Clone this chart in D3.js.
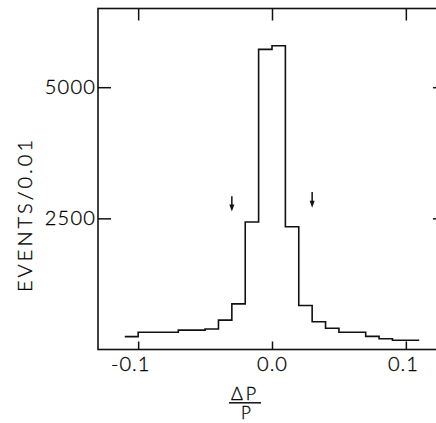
<!DOCTYPE html>
<html>
<head>
<meta charset="utf-8">
<script src="https://cdn.jsdelivr.net/npm/d3@7"></script>
<style>
  html, body { margin: 0; padding: 0; background: #fff; }
  svg { display: block; }
  text { font-family: Lato, "DejaVu Sans", sans-serif; fill: #000; font-weight: 300; stroke: #000; stroke-width: 0.3; }
</style>
</head>
<body>
<svg id="chart" width="436" height="423"></svg>
<script>
// ---- data ----
const binStart = [-0.11, -0.10, -0.09, -0.08, -0.07, -0.06, -0.05, -0.04, -0.03, -0.02, -0.01,
                   0.00,  0.01,  0.02,  0.03,  0.04,  0.05,  0.06,  0.07,  0.08,  0.09,  0.10];
const binWidth = 0.01;
const events   = [245, 330, 330, 330, 370, 370, 390, 560, 870, 2430, 5720,
                  5790, 2340, 840, 530, 405, 330, 330, 250, 205, 175, 175];
const xTicks = [-0.1, 0.0, 0.1];
const xTickLabels = ["-0.1", "0.0", "0.1"];
const yTicks = [2500, 5000];
const yTickLabels = ["2500", "5000"];
const arrowX   = [-0.03, 0.03];
const arrowTop = [2920, 3000];
const arrowTip = [2630, 2700];
const yTitle = "EVENTS/0.01";

// ---- layout ----
const svg = d3.select("#chart");
const mLeft = 98, mRight = 446, mTop = 8.5, mBottom = 349.5;
const x = d3.scaleLinear().domain([-0.13, 0.13]).range([mLeft, mRight]);
const y = d3.scaleLinear().domain([0, 6500]).range([mBottom, mTop]);
const FONT = "Lato, 'DejaVu Sans', sans-serif";

// frame
svg.append("rect")
  .attr("x", mLeft).attr("y", mTop)
  .attr("width", mRight - mLeft).attr("height", mBottom - mTop)
  .attr("fill", "none").attr("stroke", "#111").attr("stroke-width", 1.6);

// bottom axis (ticks inward)
const xb = svg.append("g").attr("transform", `translate(0,${mBottom})`)
  .call(d3.axisBottom(x).tickValues(xTicks)
    .tickFormat((d, i) => xTickLabels[i]).tickSizeInner(-8).tickSizeOuter(0).tickPadding(7));
xb.select(".domain").remove();
xb.selectAll("line").attr("stroke", "#111").attr("stroke-width", 1.5);
xb.selectAll("text").attr("font-size", 20).attr("fill", "#000").attr("font-family", FONT)
  .attr("font-weight", 300).attr("letter-spacing", 1)
  .attr("dx", (d, i) => i === 0 ? -8 : (i === 2 ? -3 : 0));

// top axis ticks
const xt = svg.append("g").attr("transform", `translate(0,${mTop})`)
  .call(d3.axisTop(x).tickValues(xTicks).tickFormat("").tickSizeInner(-12).tickSizeOuter(0));
xt.select(".domain").remove();
xt.selectAll("line").attr("stroke", "#111").attr("stroke-width", 1.5);

// left axis
const yl = svg.append("g").attr("transform", `translate(${mLeft},0)`)
  .call(d3.axisLeft(y).tickValues(yTicks)
    .tickFormat((d, i) => yTickLabels[i]).tickSizeInner(-13).tickSizeOuter(0).tickPadding(2));
yl.select(".domain").remove();
yl.selectAll("line").attr("stroke", "#111").attr("stroke-width", 1.5);
yl.selectAll("text").attr("font-size", 20).attr("fill", "#000").attr("font-family", FONT)
  .attr("font-weight", 300).attr("letter-spacing", 1.2);

// right axis ticks
const yr = svg.append("g").attr("transform", `translate(${mRight},0)`)
  .call(d3.axisRight(y).tickValues(yTicks).tickFormat("").tickSizeInner(-13).tickSizeOuter(0));
yr.select(".domain").remove();
yr.selectAll("line").attr("stroke", "#111").attr("stroke-width", 1.5);

// histogram step outline
const pts = [];
binStart.forEach((b, i) => {
  pts.push([b, events[i]]);
  pts.push([b + binWidth, events[i]]);
});
svg.append("path")
  .attr("d", d3.line().x(d => x(d[0])).y(d => y(d[1]))(pts))
  .attr("fill", "none").attr("stroke", "#111").attr("stroke-width", 1.6);

// arrows
arrowX.forEach((ax, i) => {
  const xp = x(ax), y0 = y(arrowTop[i]), y1 = y(arrowTip[i]);
  svg.append("line").attr("x1", xp).attr("x2", xp).attr("y1", y0).attr("y2", y1 - 5)
    .attr("stroke", "#111").attr("stroke-width", 1.5);
  svg.append("path")
    .attr("d", `M${xp - 2.5},${y1 - 7} L${xp + 2.5},${y1 - 7} L${xp},${y1} Z`)
    .attr("fill", "#111");
});

// y title
svg.append("text")
  .attr("transform", `translate(32,216) rotate(-90)`)
  .attr("text-anchor", "middle")
  .attr("font-size", 20).attr("font-weight", 300)
  .attr("textLength", 152).attr("lengthAdjust", "spacing")
  .text(yTitle);

// x title: ΔP / P
const cx = 245;
svg.append("text").attr("x", cx).attr("y", 400).attr("text-anchor", "middle")
  .attr("font-size", 18).attr("font-weight", 300).attr("letter-spacing", 3).text("ΔP");
svg.append("line").attr("x1", cx - 16).attr("x2", cx + 16).attr("y1", 402.8).attr("y2", 402.8)
  .attr("stroke", "#111").attr("stroke-width", 1.5);
svg.append("text").attr("x", cx + 1).attr("y", 419).attr("text-anchor", "middle")
  .attr("font-size", 17).attr("font-weight", 300).text("P");
</script>
</body>
</html>
